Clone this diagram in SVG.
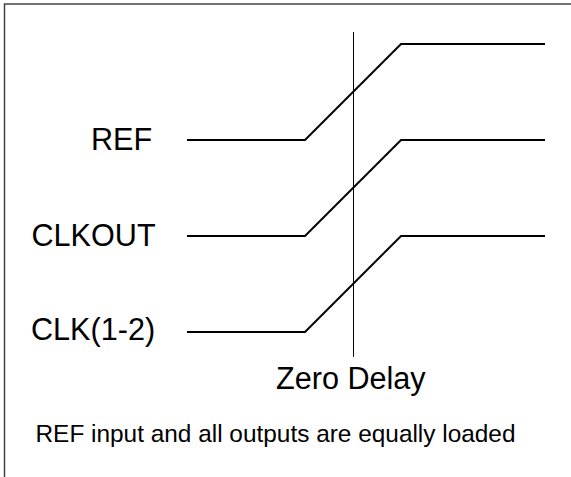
<svg xmlns="http://www.w3.org/2000/svg" width="571" height="477" viewBox="0 0 571 477">
<style>
.lbl{font-family:"Liberation Sans",Arial,sans-serif;font-size:30.6px;fill:#000}
.note{font-family:"Liberation Sans",Arial,sans-serif;font-size:24.4px;fill:#000}
.wave{fill:none;stroke:#000;stroke-width:2}
</style>
<rect width="571" height="477" fill="#fff"/>
<path d="M4.5,477 V4 H571" fill="none" stroke="#444" stroke-width="1.5"/>
<g id="ref"><text class="lbl" x="91" y="150">REF</text></g>
<g id="clkout"><text class="lbl" x="31.5" y="245.5">CLKOUT</text></g>
<g id="clk12"><text class="lbl" x="31" y="340">CLK(1-2)</text></g>
<g id="zero-delay"><text class="lbl" x="276" y="389">Zero Delay</text></g>
<g id="note"><text class="note" x="35.5" y="442">REF input and all outputs are equally loaded</text></g>
<g id="connectors">
<path class="wave" d="M187,140 H305 L401,44 H545"/>
<path class="wave" d="M187,236 H305 L401,140 H545"/>
<path class="wave" d="M187,332 H305 L401,236 H545"/>
<line x1="353.5" y1="32" x2="353.5" y2="357" stroke="#000" stroke-width="1"/>
</g>
</svg>
